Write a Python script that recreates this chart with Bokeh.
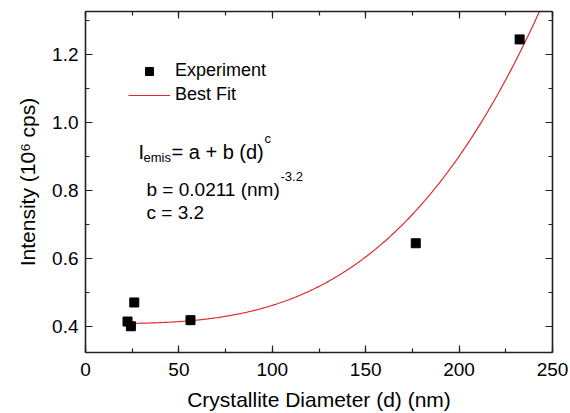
import numpy as np
from bokeh.plotting import figure
from bokeh.models import (Range1d, LinearAxis, Label, Legend, LegendItem,
                          SingleIntervalTicker, CustomLabelingPolicy)
from bokeh.embed import file_html
from bokeh.resources import INLINE

# ---- data ----
diameter_nm = [22.5, 24.3, 26.1, 56.2, 176.8, 232.4]
intensity = [0.416, 0.402, 0.472, 0.420, 0.646, 1.245]

# best-fit model  I = a + b * d**c   (I in 10^6 cps, d in nm)
fit_a = 0.41
fit_b = 2.13e-8
fit_c = 3.2
fit_d_start, fit_d_end = 23.0, 250.0

x_ticks = [0, 50, 100, 150, 200, 250]
y_ticks = [0.4, 0.6, 0.8, 1.0, 1.2]

FONT = "Liberation Sans"
AXC = "#222222"

FL, FB = 85, 354  # frame left / bottom in canvas pixels


def sx(X):
    return X - FL


def sy(Y):
    return FB - Y


p = figure(width=570, height=413, output_backend="svg", toolbar_location=None,
           x_range=Range1d(0, 250), y_range=Range1d(0.325, 1.327),
           min_border_left=85, min_border_right=16, min_border_top=10,
           min_border_bottom=59)
p.grid.visible = False
p.outline_line_color = None
p.background_fill_color = "white"
p.border_fill_color = "white"

d_fit = np.linspace(fit_d_start, fit_d_end, 300)
i_fit = fit_a + fit_b * d_fit ** fit_c
fit_r = p.line(d_fit, i_fit, line_color="#dd2a2f", line_width=1.2)
exp_r = p.scatter(diameter_nm, intensity, marker="square", size=9,
                  fill_color="black", line_color="black")

no_labels = CustomLabelingPolicy(
    code="for (const i of Array.from(indices)) { indices.unset(i) }; return indices")


def style_axis(ax, labels=True):
    ax.axis_line_color = AXC
    ax.axis_line_width = 1.6
    ax.major_tick_line_color = AXC
    ax.minor_tick_line_color = AXC
    ax.major_tick_line_width = 1.2
    ax.minor_tick_line_width = 1.2
    ax.major_tick_in = 7
    ax.major_tick_out = 0
    ax.minor_tick_in = 4
    ax.minor_tick_out = 0
    if labels:
        ax.major_label_text_font = FONT
        ax.major_label_text_font_size = "19px"
        ax.major_label_text_color = "black"
        ax.axis_label_text_font = FONT
        ax.axis_label_text_font_size = "21px"
        ax.axis_label_text_font_style = "normal"
        ax.axis_label_text_color = "black"
    else:
        ax.major_label_policy = no_labels
        ax.major_label_standoff = 0


xt = SingleIntervalTicker(interval=50, num_minor_ticks=2)
yt = SingleIntervalTicker(interval=0.2, num_minor_ticks=2)

xa = p.xaxis[0]
xa.ticker = xt
xa.axis_label = "Crystallite Diameter (d) (nm)"
xa.major_label_standoff = 10
xa.axis_label_standoff = 9
style_axis(xa)

ya = p.yaxis[0]
ya.ticker = yt
ya.axis_label = "Intensity (10\u2076 cps)"
ya.major_label_standoff = 7
ya.axis_label_standoff = 10
ya.major_label_overrides = {0.4: "0.4", 0.6: "0.6", 0.8: "0.8", 1.0: "1.0", 1.2: "1.2"}
style_axis(ya)

top = LinearAxis(ticker=SingleIntervalTicker(interval=50, num_minor_ticks=2))
style_axis(top, labels=False)
p.add_layout(top, "above")
right = LinearAxis(ticker=SingleIntervalTicker(interval=0.2, num_minor_ticks=2))
style_axis(right, labels=False)
p.add_layout(right, "right")

legend = Legend(items=[LegendItem(label="Experiment", renderers=[exp_r]),
                       LegendItem(label="Best Fit", renderers=[fit_r])],
                location=(sx(128), sy(107)), padding=0, margin=0, spacing=3,
                glyph_width=42, glyph_height=20, label_height=20,
                label_standoff=5, border_line_color=None,
                background_fill_alpha=0, label_text_font=FONT,
                label_text_font_size="18px", label_text_color="black")
p.add_layout(legend)


def lab(X, Y, text, size):
    p.add_layout(Label(x=sx(X), y=sy(Y), x_units="screen", y_units="screen",
                       text=text, text_font=FONT, text_font_size=size,
                       text_color="black", text_baseline="alphabetic",
                       text_align="left"))


lab(138, 153, "I", "20px")
lab(143, 159, "emis", "13px")
lab(171, 153, "= a + b (d)", "20px")
lab(264, 140, "c", "13px")
lab(146, 191, "b = 0.0211 (nm)", "19px")
lab(280, 178, "-3.2", "13px")
lab(146, 214, "c = 3.2", "19px")

open("out.html", "w").write(file_html(p, INLINE))
